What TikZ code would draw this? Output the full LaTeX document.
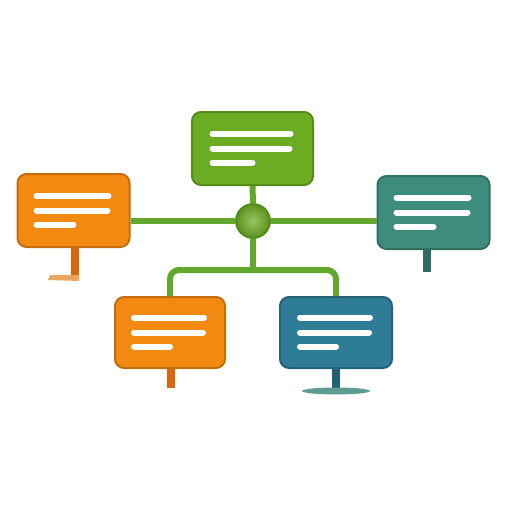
\documentclass[tikz,border=0pt]{standalone}
\usetikzlibrary{positioning}

\definecolor{leafgreen}{HTML}{6CAC22}
\definecolor{leafdark}{HTML}{4C8A16}
\definecolor{linkgreen}{HTML}{62A82C}
\definecolor{tangerine}{HTML}{F28A12}
\definecolor{tangdark}{HTML}{D9680C}
\definecolor{seateal}{HTML}{3E8C7C}
\definecolor{seadark}{HTML}{2C6E62}
\definecolor{deepblue}{HTML}{2F7C96}
\definecolor{deepdark}{HTML}{235F76}

\def\px{0.025cm}

\begin{document}
\begin{tikzpicture}[x=0.025cm,y=-0.025cm,
    panel/.style={draw=#1!80!black,line width=2*\px,rounded corners=9*\px,
      fill=#1,minimum width=112*\px,minimum height=73*\px,inner sep=0pt},
    link/.style={linkgreen,line width=6*\px},
    stem/.style={line width=8*\px},
    hubball/.style={circle,draw=leafdark,line width=1.5*\px,
      inner color=leafgreen!70!white,outer color=leafgreen!85!black,
      minimum size=34*\px,inner sep=0pt},
    textbar/.style={white,line width=6*\px,line cap=round}]

  % page (white, 512 x 512 px)
  \useasboundingbox[fill=white] (0,0) rectangle (512,512);

  % Panels
  \node[panel=leafgreen,minimum width=121*\px] (top)      at (252.5,148.5) {};
  \node[panel=tangerine]                       (left)     at (73.5,210.5)  {};
  \node[panel=seateal]                         (right)    at (433.5,212.5) {};
  \node[panel=tangerine,minimum width=110*\px,minimum height=71*\px]
                                               (botleft)  at (170,332.5)   {};
  \node[panel=deepblue,minimum height=71*\px]  (botright) at (336,332.5)   {};

  % Hub
  \coordinate (split) at (253,270);
  \node[hubball] (hub) at (253,221) {};

  % Connectors
  \draw[link] (left.east |- hub) -- (hub.west);
  \draw[link] (hub.east) -- (right.west |- hub);
  \draw[link] (top.south) -- (hub.north);
  \draw[link] (hub.south) -- (split);
  \draw[link,rounded corners=9*\px] (botleft.north) |- (split) -| (botright.north);
  \node[hubball] at (hub) {};

  % Stems under the panels
  \coordinate (leftfoot)     at (75,277);
  \coordinate (rightfoot)    at (427,272);
  \coordinate (botleftfoot)  at (171,388);
  \coordinate (botrightfoot) at (336,391);
  \draw[stem,tangdark] (left.south -| leftfoot) -- (leftfoot);
  \fill[orange!60!brown!70] (48,280) -- (50,275) -- (79,275) -- (79,281) -- cycle;
  \draw[stem,seadark] (right.south -| rightfoot) -- (rightfoot);
  \draw[stem,tangdark] (botleft.south -| botleftfoot) -- (botleftfoot);
  \draw[stem,deepdark] (botright.south) -- (botrightfoot);
  \fill[seateal!85] (botrightfoot) ellipse (34 and 3.5);

  % Text bars on each panel
  \foreach \n/\w in {top/40,left/37,right/37,botleft/36,botright/36} {
    \begin{scope}[shift={(\n.center)}]
      \draw[textbar] (-\w,-15) -- (\w-2,-15);
      \draw[textbar] (-\w,0) -- (\w-3,0);
      \draw[textbar] (-\w,14) -- (0,14);
    \end{scope}
  }
\end{tikzpicture}
\end{document}
